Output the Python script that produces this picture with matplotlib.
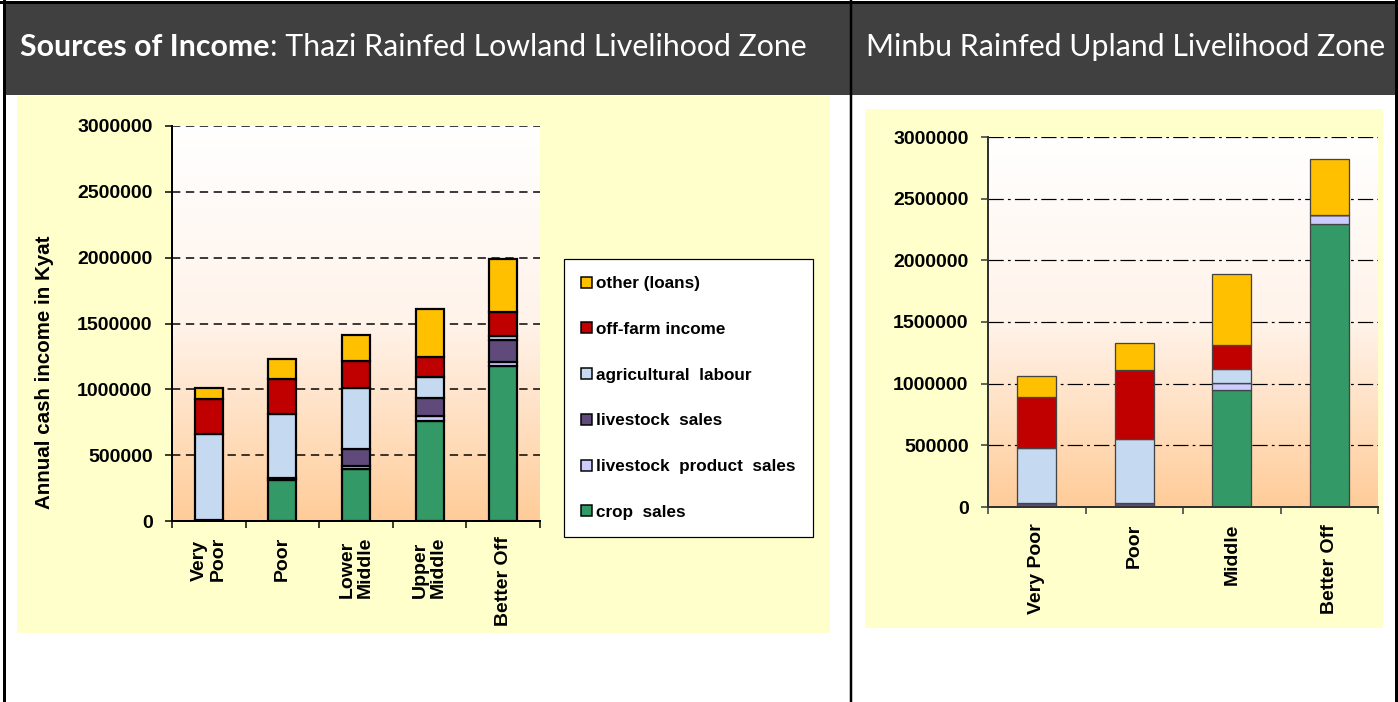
import matplotlib
matplotlib.use('Agg')
import matplotlib.pyplot as plt
import numpy as np
from matplotlib.patches import Rectangle, Patch
from matplotlib.colors import LinearSegmentedColormap

plt.rcParams['lines.scale_dashes'] = False

# ---------------- data ----------------
series_names = ['crop  sales', 'livestock  product  sales', 'livestock  sales',
                'agricultural  labour', 'off-farm income', 'other (loans)']
series_colors = ['#339966', '#CCCCFF', '#604A7B', '#C5D9F1', '#C00000', '#FFC000']

thazi_groups = ['Very\nPoor', 'Poor', 'Lower\nMiddle', 'Upper\nMiddle', 'Better Off']
thazi_crop = [0, 315000, 397000, 761000, 1178000]
thazi_lsprod = [8000, 12000, 18000, 33000, 28000]
thazi_lssales = [0, 0, 132000, 137000, 165000]
thazi_aglab = [656000, 485000, 463000, 161000, 34000]
thazi_offfarm = [260000, 264000, 204000, 152000, 185000]
thazi_other = [89000, 153000, 198000, 364000, 400000]

minbu_groups = ['Very Poor', 'Poor', 'Middle', 'Better Off']
minbu_crop = [0, 0, 948000, 2293000]
minbu_lsprod = [0, 0, 54000, 76000]
minbu_lssales = [30000, 30000, 0, 0]
minbu_aglab = [449000, 525000, 119000, 0]
minbu_offfarm = [415000, 555000, 192000, 0]
minbu_other = [167000, 222000, 577000, 453000]

yticks = [0, 500000, 1000000, 1500000, 2000000, 2500000, 3000000]
ytick_labels = ['0', '500000', '1000000', '1500000', '2000000', '2500000', '3000000']

header_left_bold = 'Sources of Income'
header_left_rest = ': Thazi Rainfed Lowland Livelihood Zone'
header_right = 'Minbu Rainfed Upland Livelihood Zone'
ylabel_left = 'Annual cash income in Kyat'

# ---------------- figure ----------------
W, H = 1398, 702
fig = plt.figure(figsize=(W / 100, H / 100), dpi=100)
fig.patch.set_facecolor('white')
bg = fig.add_axes([0, 0, 1, 1])
bg.set_xlim(0, W)
bg.set_ylim(H, 0)
bg.axis('off')

# header
bg.add_patch(Rectangle((3, 2), W - 6, 93, fc='#404040', ec='none', zorder=1))
# table borders
PX = 0.72
bg.plot([4, 4], [0, H], color='black', lw=3 * PX, zorder=3)
bg.plot([W - 2.5, W - 2.5], [0, H], color='black', lw=3 * PX, zorder=3)
bg.plot([851, 851], [0, H], color='black', lw=2.5 * PX, zorder=3)
bg.plot([0, W], [1.5, 1.5], color='black', lw=3 * PX, zorder=3)

# chart backgrounds
bg.add_patch(Rectangle((17, 96), 813, 537, fc='#FFFFCC', ec='none', zorder=1))
bg.add_patch(Rectangle((865, 109), 518, 519, fc='#FFFFCC', ec='none', zorder=1))

hfont = 'Lato'
HS = 21.8
t1 = bg.text(20, 47, header_left_bold, color='white', fontsize=HS, fontweight='bold',
             family=hfont, va='center', ha='left', zorder=4)
fig.canvas.draw()
r = fig.canvas.get_renderer()
bb = t1.get_window_extent(renderer=r)
bg.text(bb.x1, 47, header_left_rest, color='white', fontsize=HS, family=hfont,
        va='center', ha='left', zorder=4)
bg.text(866, 47, header_right, color='white', fontsize=HS, family=hfont,
        va='center', ha='left', zorder=4)

grad_cmap = LinearSegmentedColormap.from_list('g', ['#FFFFFF', '#FFF3EA', '#FFCC99'])
grad = np.linspace(0, 1, 256).reshape(-1, 1)

tfont = 'Liberation Sans'


def stacked(ax, series, width, ec, lw):
    n = len(series[0])
    x = np.arange(n)
    bottom = np.zeros(n)
    handles = []
    for vals, name, col in zip(series, series_names, series_colors):
        v = np.array(vals, dtype=float)
        h = ax.bar(x, v, width, bottom=bottom, color=col, edgecolor=ec, linewidth=lw,
                   label=name, zorder=3)
        handles.append(h)
        bottom = bottom + v
    return handles


def setup(ax, groups, gridstyle, spine_col):
    n = len(groups)
    ax.imshow(grad, extent=[-0.5, n - 0.5, 0, 3000000], aspect='auto', cmap=grad_cmap,
              origin='upper', zorder=0)
    ax.set_xlim(-0.5, n - 0.5)
    ax.set_ylim(0, 3000000)
    ax.set_yticks(yticks)
    ax.set_yticklabels(ytick_labels, fontsize=14, fontweight='bold', family=tfont)
    ax.set_xticks(np.arange(n))
    ax.set_xticklabels(groups, rotation=90, ha='center', va='top', fontsize=14,
                       fontweight='bold', family=tfont, multialignment='left',
                       linespacing=1.1)
    ax.set_xticks(np.arange(n + 1) - 0.5, minor=True)
    ax.tick_params(axis='x', which='major', length=0, pad=11)
    ax.tick_params(axis='x', which='minor', length=5, width=1.5 * PX, direction='out',
                   color=spine_col)
    ax.tick_params(axis='y', length=5, width=1.5 * PX, direction='out', pad=9,
                   color=spine_col)
    for s in ['top', 'right']:
        ax.spines[s].set_visible(False)
    for s in ['left', 'bottom']:
        ax.spines[s].set_color(spine_col)
        ax.spines[s].set_linewidth(2 * PX)
        ax.spines[s].set_zorder(5)
    for yv in yticks[1:]:
        ax.axhline(yv, color='black', zorder=1, **gridstyle)


axL = fig.add_axes([172 / W, (H - 521) / H, 368 / W, 395 / H])
setup(axL, thazi_groups, dict(lw=1.5 * PX, linestyle=(0, (6, 4))), 'black')
stacked(axL, [thazi_crop, thazi_lsprod, thazi_lssales, thazi_aglab, thazi_offfarm,
              thazi_other], 0.38, 'black', 2.2 * PX)

axR = fig.add_axes([988 / W, (H - 507) / H, 390 / W, 370 / H])
setup(axR, minbu_groups, dict(lw=1.2 * PX, linestyle=(0, (11, 3, 2, 3))), '#333333')
stacked(axR, [minbu_crop, minbu_lsprod, minbu_lssales, minbu_aglab, minbu_offfarm,
              minbu_other], 0.4, '#444444', 1.3 * PX)
axR.tick_params(axis='x', which='major', pad=12)

fig.text(45 / W, 1 - 372 / H, ylabel_left, rotation=90, fontsize=14.8, fontweight='bold',
         family=tfont, ha='center', va='center')

# legend
leg_handles = [Patch(facecolor=c, edgecolor='black', linewidth=1.5 * PX)
               for c in series_colors][::-1]
leg = fig.legend(leg_handles, series_names[::-1], loc='upper left',
                 bbox_to_anchor=(564 / W, 1 - 259 / H),
                 prop=dict(family=tfont, weight='bold', size=12.3),
                 frameon=True, fancybox=False, edgecolor='black', facecolor='white',
                 framealpha=1, handlelength=0.62, handleheight=0.62, handletextpad=0.25,
                 labelspacing=1.8, borderpad=1.0, borderaxespad=0)
leg.get_frame().set_linewidth(1.2 * PX)

fig.savefig('out.png', dpi=100)
